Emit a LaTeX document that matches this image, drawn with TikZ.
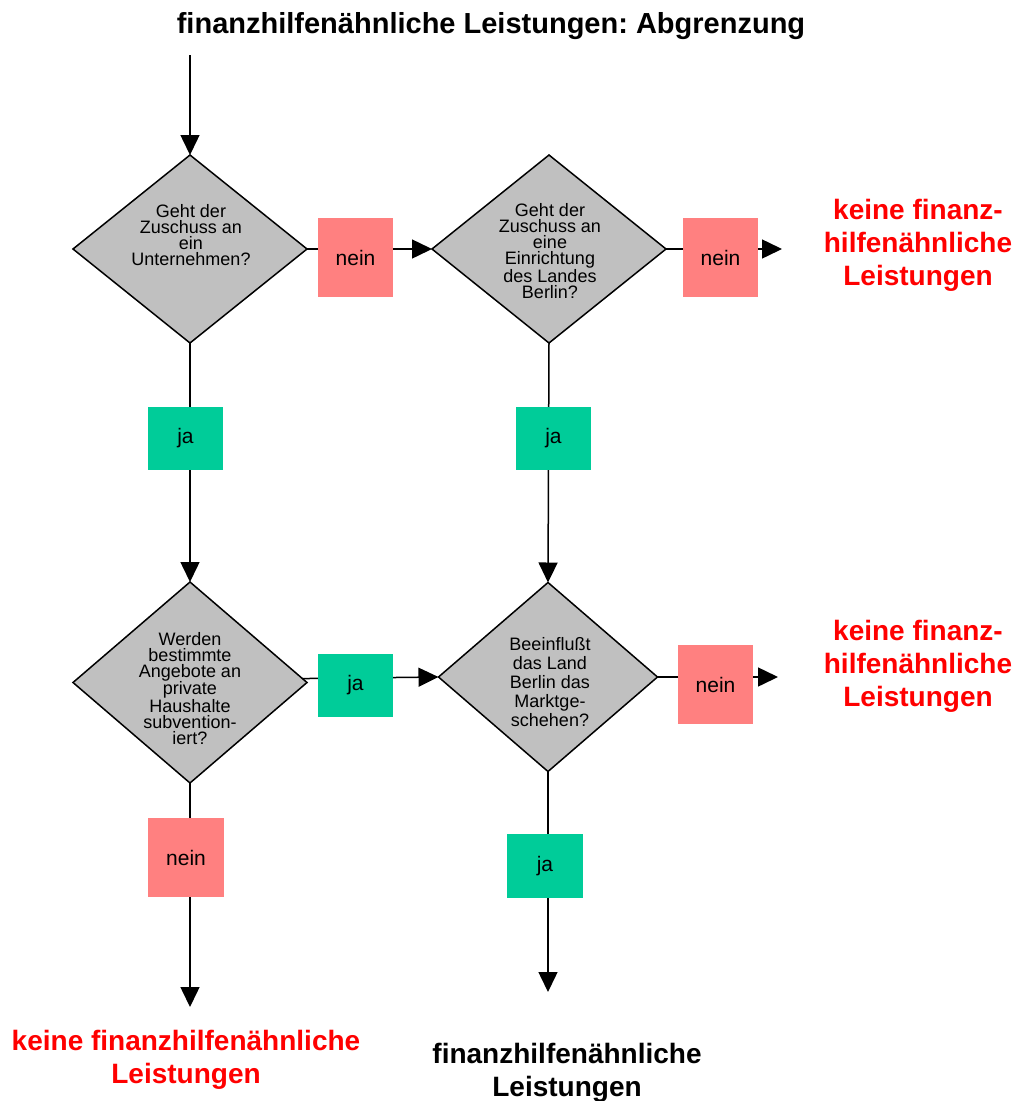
\documentclass[tikz,border=0pt]{standalone}
\usepackage{fontspec}
\setmainfont{Liberation Sans}
\usetikzlibrary{shapes.geometric,arrows.meta}
\definecolor{dgray}{RGB}{192,192,192}
\definecolor{neinred}{RGB}{255,128,128}
\definecolor{jagreen}{RGB}{0,204,153}
\definecolor{kred}{RGB}{255,0,0}
\frenchspacing
\begin{document}
\begin{tikzpicture}[x=1pt,y=-1pt,
  dia/.style={diamond, draw=black, line width=1.5pt, fill=dgray, inner sep=0pt, outer sep=0pt},
  diatext/.style={align=center, font=\fontsize{18}{16}\selectfont, inner sep=0pt},
  conn/.style={line width=1.5pt, draw=black},
  arr/.style={conn, -{Triangle[length=20pt,width=19pt]}},
  neinbox/.style={fill=neinred, minimum width=75pt, minimum height=79pt, inner sep=0pt, font=\fontsize{21}{25}\selectfont},
  jabox/.style={fill=jagreen, minimum width=75pt, minimum height=63pt, inner sep=0pt, font=\fontsize{21}{25}\selectfont},
  result/.style={align=center, font=\bfseries\fontsize{28}{33}\selectfont, inner sep=0pt},
  keine/.style={result, text=kred}
]
\useasboundingbox (0,0) rectangle (1029,1101);

% title
\node[anchor=base, font=\bfseries\fontsize{29}{35}\selectfont, inner sep=0pt] (title) at (491,33) {finanzhilfenähnliche Leistungen: Abgrenzung};

% diamonds
\node[dia, minimum width=234pt, minimum height=188pt] (d1) at (190,249) {};
\node[dia, minimum width=234pt, minimum height=188pt] (d2) at (549,249) {};
\node[dia, minimum width=234pt, minimum height=201pt] (d3) at (190,682.5) {};
\node[dia, minimum width=219pt, minimum height=189pt] (d4) at (548,677) {};

\node[diatext] (t1) at (191,235) {Geht der\\Zuschuss an\\ein\\Unternehmen?};
\node[diatext] (t2) at (550,251) {Geht der\\Zuschuss an\\eine\\Einrichtung\\des Landes\\Berlin?};
\node[diatext] (t3) at (190,688.5) {Werden\\bestimmte\\Angebote an\\private\\Haushalte\\subvention-\\iert?};
\node[diatext, font=\fontsize{18}{19}\selectfont] (t4) at (550,682) {Beeinflußt\\das Land\\Berlin das\\Marktge-\\schehen?};

% free ends
\coordinate (start) at (190,55);
\coordinate (e2) at (782,249);
\coordinate (e4) at (778,677);
\coordinate (e3) at (190,1007);
\coordinate (e5) at (548,992);

% connectors
\draw[arr] (start) -- (d1.north);
\draw[arr] (d1.east) -- (d2.west);
\draw[arr] (d2.east) -- (e2);
\draw[arr] (d1.south) -- (d3.north);
\draw[arr] (d2.south) -- (d4.north);
\draw[arr] (d3.2.7) -- (d4.west);
\draw[arr] (d4.east) -- (e4);
\draw[arr] (d3.south) -- (e3);
\draw[arr] (d4.south) -- (e5);

% label boxes
\node[neinbox] (n1) at (355.5,257.5) {nein};
\node[neinbox] (n2) at (720.5,257.5) {nein};
\node[jabox] (j1) at (185.5,438.5) {ja};
\node[jabox] (j2) at (553.5,438.5) {ja};
\node[jabox] (j3) at (355.5,685.5) {ja};
\node[neinbox] (n4) at (715.5,684.5) {nein};
\node[neinbox, minimum width=76pt] (n3) at (186,857.5) {nein};
\node[jabox, minimum width=76pt, minimum height=64pt] (j4) at (545,866) {ja};

% results
\node[keine] (r1) at (918,245.5) {keine finanz-\\hilfenähnliche\\Leistungen};
\node[keine] (r2) at (918,666) {keine finanz-\\hilfenähnliche\\Leistungen};
\node[keine] (r3) at (186,1059.5) {keine finanzhilfenähnliche\\Leistungen};
\node[result] (r4) at (567,1073) {finanzhilfenähnliche\\Leistungen};
\end{tikzpicture}
\end{document}
